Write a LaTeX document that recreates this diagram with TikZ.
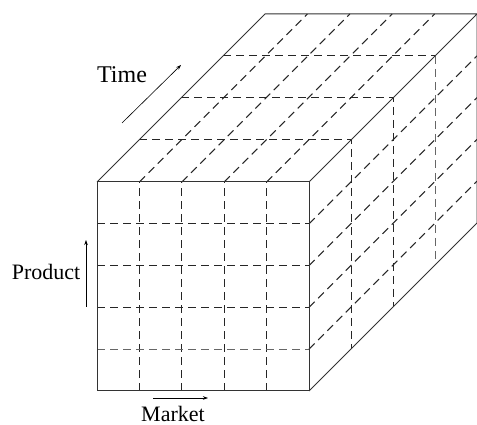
\documentclass[tikz,border=0pt]{standalone}
\usepackage{fontspec}
\setmainfont{Liberation Serif}
\usetikzlibrary{arrows.meta,calc}

\begin{document}
\begin{tikzpicture}[x=1pt, y=1pt,
  edge/.style={draw=black!80, line width=1pt},
  cell/.style={draw=black!85, line width=1pt, dash pattern=on 8pt off 5pt},
  faint/.style={cell, line width=0.6pt, draw=black!60},
  axis/.style={-{Stealth[length=5pt, width=3.5pt]}, line width=0.6pt},
  lbl/.style={font=\fontsize{22}{22}\selectfont, inner sep=0pt}
]
  \useasboundingbox (0,0) rectangle (477,425);

  % front face corners and depth
  \coordinate (A) at (97,34);
  \coordinate (B) at (309,34);
  \coordinate (C) at (309,243);
  \coordinate (D) at (97,243);
  \coordinate (dp) at (168,168);

  % market divisions: front verticals and top diagonals
  \foreach \k in {1,...,4} {
    \coordinate (m\k) at ($(A)!\k/5!(B)$);
    \coordinate (t\k) at ($(D)!\k/5!(C)$);
    \draw[cell] (m\k) -- (t\k);
    \draw[cell] (t\k) -- ($(t\k)+(dp)$);
  }

  % product divisions: front horizontals and side diagonals
  \foreach \k in {2,...,4} {
    \coordinate (p\k) at ($(A)!\k/5!(D)$);
    \coordinate (s\k) at ($(B)!\k/5!(C)$);
    \draw[cell] (p\k) -- (s\k);
    \draw[cell] (s\k) -- ($(s\k)+(dp)$);
  }
  \coordinate (p1) at ($(A)!1/5!(D)$);
  \coordinate (s1) at ($(B)!1/5!(C)$);
  \draw[faint] (p1) -- (s1);
  \draw[cell] (s1) -- ($(s1)+(dp)$);

  % time divisions: top horizontals and side verticals
  \foreach \j in {1,2} {
    \draw[cell] ($(D)!\j/4!($(D)+(dp)$)$) -- ($(C)!\j/4!($(C)+(dp)$)$)
      -- ($(B)!\j/4!($(B)+(dp)$)$);
  }
  \draw[cell] ($(D)!3/4!($(D)+(dp)$)$) -- ($(C)!3/4!($(C)+(dp)$)$);
  \draw[faint] ($(C)!3/4!($(C)+(dp)$)$) -- ($(B)!3/4!($(B)+(dp)$)$);

  % cube outline
  \draw[edge] (A) -- (B) -- (C) -- (D) -- cycle;
  \draw[edge] (D) -- ($(D)+(dp)$) -- ($(C)+(dp)$) -- (C);
  \draw[edge] ($(C)+(dp)$) -- ($(B)+(dp)$) -- (B);

  % axes
  \coordinate (time0) at (122,302);
  \coordinate (time1) at (181,360);
  \coordinate (prod0) at (86,118);
  \coordinate (prod1) at (86,185);
  \coordinate (mkt0) at (153,27);
  \coordinate (mkt1) at (208,27);
  \draw[axis] (time0) -- (time1);
  \draw[axis] (prod0) -- (prod1);
  \draw[axis] (mkt0) -- (mkt1);

  \node[lbl, font=\fontsize{24}{24}\selectfont] (time) at (122,350) {Time};
  \node[lbl] (product) at (46,153) {Product};
  \node[lbl] (market) at (173,11) {Market};
\end{tikzpicture}
\end{document}
